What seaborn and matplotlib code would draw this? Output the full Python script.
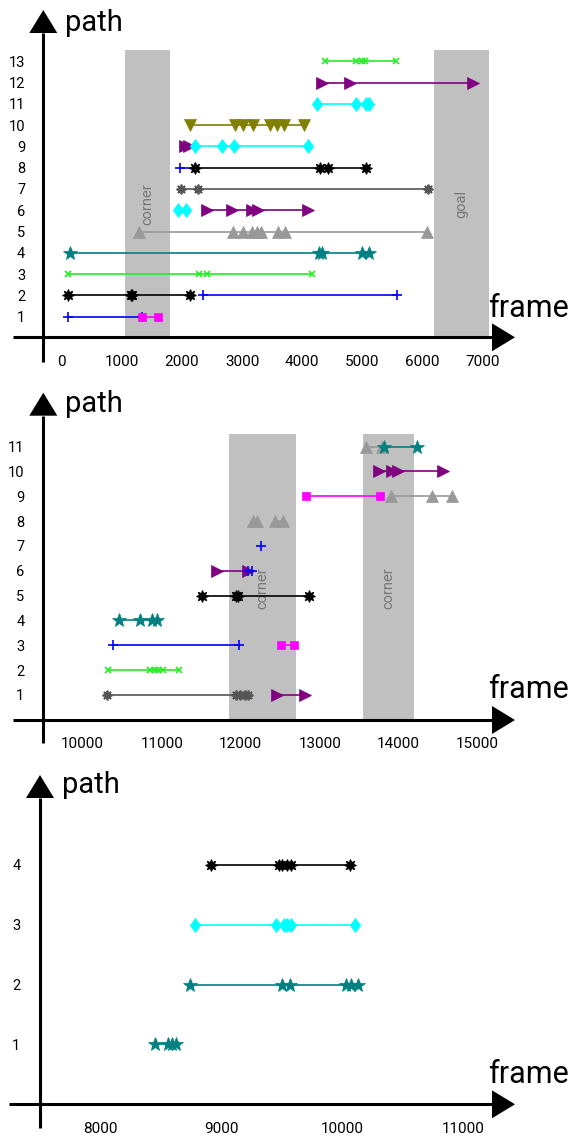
import matplotlib
matplotlib.use('Agg')
import matplotlib.pyplot as plt
import seaborn as sns

W, H = 573, 1137

# ---- panel 1 : frames 0-7000, 13 paths
top_paths = [1, 1, 2, 2, 3, 4, 5, 6, 6, 7, 8, 8, 9, 9, 10, 11, 12, 13]
top_styles = ['plus', 'square', 'star8', 'plus', 'x', 'star5', 'tri_up', 'diamond', 'tri_right',
              'asterisk', 'plus', 'star8', 'tri_right', 'diamond', 'tri_down', 'diamond', 'tri_right', 'x']
top_frames = [
    [100, 1330], [1330, 1610],
    [100, 1160, 1175, 2135], [2345, 5585],
    [100, 2285, 2425, 4170],
    [140, 4285, 4335, 4990, 5120],
    [1290, 2855, 3010, 3160, 3245, 3315, 3605, 3715, 6075],
    [1940, 2065], [2415, 2840, 3170, 3260, 4090],
    [1985, 2265, 6100],
    [1975, 2210], [2210, 4300, 4430, 5060],
    [2050, 2110], [2220, 2665, 2875, 4090],
    [2135, 2885, 3015, 3180, 3470, 3590, 3700, 4030],
    [4245, 4895, 5065, 5120],
    [4325, 4800, 6850],
    [4380, 4895, 4990, 5045, 5565],
]
top_shades = [(1055, 1800), (6195, 7110)]
top_shade_labels = ['corner', 'goal']
top_xticks = [0, 1000, 2000, 3000, 4000, 5000, 6000, 7000]
top_yticks = list(range(1, 14))

# ---- panel 2 : frames 10000-15000, 11 paths
mid_paths = [1, 1, 2, 3, 3, 4, 5, 6, 6, 7, 8, 8, 9, 9, 10, 11, 11]
mid_styles = ['asterisk', 'tri_right', 'x', 'plus', 'square', 'star5', 'star8', 'tri_right', 'plus',
              'plus', 'tri_up', 'tri_up', 'square', 'tri_up', 'tri_right', 'tri_up', 'star5']
mid_frames = [
    [10305, 11945, 11995, 12050, 12090], [12455, 12815],
    [10325, 10850, 10915, 10955, 11010, 11225],
    [10385, 11980], [12505, 12675],
    [10465, 10725, 10875, 10945],
    [11505, 11940, 11965, 12865],
    [11695, 12090], [12090, 12140],
    [12255],
    [12160, 12210], [12440, 12540],
    [12825, 13765], [13905, 14420, 14670],
    [13755, 13910, 13995, 14565],
    [13585, 13785], [13820, 14230],
]
mid_shades = [(11850, 12695), (13550, 14195)]
mid_shade_labels = ['corner', 'corner']
mid_xticks = [10000, 11000, 12000, 13000, 14000, 15000]
mid_yticks = list(range(1, 12))

# ---- panel 3 : frames 8000-11000, 4 paths
bot_paths = [1, 2, 3, 4]
bot_styles = ['star5', 'star5', 'diamond', 'star8']
bot_frames = [
    [8450, 8560, 8590, 8625],
    [8745, 9505, 9570, 10030, 10075, 10130],
    [8785, 9450, 9515, 9545, 9575, 10100],
    [8915, 9480, 9505, 9540, 9575, 10065],
]
bot_xticks = [8000, 9000, 10000, 11000]
bot_yticks = [1, 2, 3, 4]

DIAMOND = [(0, 1), (0.75, 0), (0, -1), (-0.75, 0), (0, 1)]
STYLES = {
    'plus': dict(marker='+', color='#0000ff', ms=7.5, mew=1.2),
    'square': dict(marker='s', color='#ff00ff', ms=6, mew=0.5),
    'star8': dict(marker=(8, 1, 0), color='#000000', ms=8.5, mew=0.8),
    'x': dict(marker='x', color='#22ee22', ms=5, mew=1.2),
    'star5': dict(marker='*', color='#008080', ms=10.5, mew=0.5),
    'tri_up': dict(marker='^', color='#999999', ms=8.5, mew=0.5),
    'tri_down': dict(marker='v', color='#808000', ms=8.5, mew=0.5),
    'tri_right': dict(marker='>', color='#800080', ms=8.5, mew=0.5),
    'diamond': dict(marker=DIAMOND, color='#00ffff', ms=10, mew=0.5),
    'asterisk': dict(marker=(8, 2, 0), color='#555555', ms=7, mew=1.3),
}

sns.set_style('white')
plt.rcParams['font.family'] = ['Roboto', 'DejaVu Sans']
plt.rcParams['text.color'] = 'black'

fig = plt.figure(figsize=(W / 100, H / 100), dpi=100)


def make_panel(box, xlim, ylim, xticks, yticks, xleft_px, ybottom_px, ypad):
    left, top, right, bottom = box
    aw, ah = right - left, bottom - top
    ax = fig.add_axes([left / W, 1 - bottom / H, aw / W, ah / H])
    ax.patch.set_alpha(0)
    for sp in ax.spines.values():
        sp.set_visible(False)
    ax.set_xlim(xlim)
    ax.set_ylim(ylim)
    ax.set_xticks(xticks)
    ax.set_xticklabels([str(t) for t in xticks])
    ax.set_yticks(yticks)
    ax.set_yticklabels([str(t) for t in yticks])
    ax.tick_params(axis='x', direction='in', length=8, width=0.8, pad=12.5, labelsize=11,
                   colors='black')
    ax.tick_params(axis='y', length=0, pad=ypad, labelsize=10.5, colors='black')
    ax.grid(False)

    # axis lines with arrow heads
    hl, hw = 23, 14
    ax.plot([(xleft_px - left) / aw, 1 - hl / aw], [0, 0], transform=ax.transAxes,
            color='black', lw=2.2, clip_on=False, solid_capstyle='butt')
    ax.fill([1, 1 - hl / aw, 1 - hl / aw], [0, hw / ah, -hw / ah], transform=ax.transAxes,
            color='black', clip_on=False, lw=0)
    ax.plot([0, 0], [-(ybottom_px - bottom) / ah, 1 - hl / ah], transform=ax.transAxes,
            color='black', lw=2.2, clip_on=False, solid_capstyle='butt')
    ax.fill([0, hw / aw, -hw / aw], [1, 1 - hl / ah, 1 - hl / ah], transform=ax.transAxes,
            color='black', clip_on=False, lw=0)
    return ax


def draw_shades(ax, shades, labels, ytop, ytext):
    y0 = ax.get_ylim()[0]
    for (a, b), lab in zip(shades, labels):
        ax.fill_betweenx([y0, ytop], a, b, color='#c0c0c0', lw=0, zorder=0)
        ax.text((a + b) / 2, ytext, lab, rotation=90, ha='center', va='center',
                fontsize=10.5, color='#777777', zorder=1)


def draw_segments(ax, paths, styles, frames):
    for p, s, fr in zip(paths, styles, frames):
        st = STYLES[s]
        sns.lineplot(x=fr, y=[p] * len(fr), ax=ax, color=st['color'], linewidth=1.2,
                     marker=st['marker'], markersize=st['ms'], markeredgewidth=st['mew'],
                     markeredgecolor=st['color'], markerfacecolor=st['color'],
                     estimator=None, sort=False, legend=False, zorder=3)


def axis_titles(path_xy, frame_xy):
    fig.text(path_xy[0] / W, 1 - path_xy[1] / H, 'path', fontsize=21, va='baseline', ha='left')
    fig.text(frame_xy[0] / W, 1 - frame_xy[1] / H, 'frame', fontsize=22, va='baseline', ha='left')


# panel 1
ax1 = make_panel((43.3, 10, 515, 337.3), (-306, 7542), (0.032, 15.41), top_xticks, top_yticks,
                 13, 361.7, 13)
draw_shades(ax1, top_shades, top_shade_labels, 13.53, 6.3)
draw_segments(ax1, top_paths, top_styles, top_frames)
ax1.set_xlim(-306, 7542)
ax1.set_ylim(0.032, 15.41)
axis_titles((65, 30.7), (488, 317.3))

# panel 2
ax2 = make_panel((43.3, 392.7, 515, 720), (9501, 15472), (-0.007, 13.17), mid_xticks, mid_yticks,
                 13, 742.7, 13.5)
draw_shades(ax2, mid_shades, mid_shade_labels, 11.51, 5.31)
draw_segments(ax2, mid_paths, mid_styles, mid_frames)
ax2.set_xlim(9501, 15472)
ax2.set_ylim(-0.007, 13.17)
axis_titles((65, 412.3), (488, 698.3))

# panel 3
ax3 = make_panel((40, 775, 515, 1104.3), (7505, 11424), (-0.003, 5.503), bot_xticks, bot_yticks,
                 9, 1128, 14)
draw_segments(ax3, bot_paths, bot_styles, bot_frames)
ax3.set_xlim(7505, 11424)
ax3.set_ylim(-0.003, 5.503)
axis_titles((61.7, 793.3), (488, 1083.3))

for ax in (ax1, ax2, ax3):
    ax.set_xlabel('')
    ax.set_ylabel('')

fig.savefig('out.png', dpi=100)
